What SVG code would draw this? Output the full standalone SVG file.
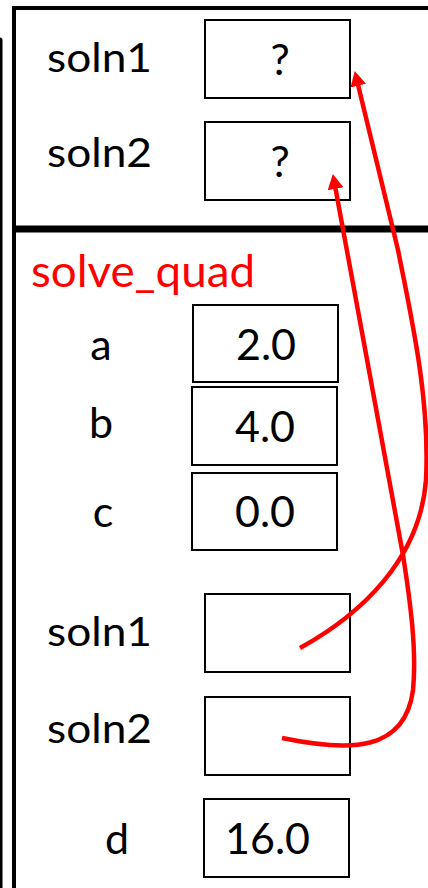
<svg xmlns="http://www.w3.org/2000/svg" width="428" height="888" viewBox="0 0 428 888">
<defs>
<style>
.frame{fill:none;stroke:#000;stroke-linecap:butt}
.box{fill:#fff;stroke:#000;stroke-width:2}
.lbl{font-family:Lato,"Open Sans",sans-serif;font-size:41px;fill:#000}
.val{font-family:Lato,"Open Sans",sans-serif;font-size:43px;fill:#000}
.title{font-family:Lato,"Open Sans",sans-serif;font-size:44px;fill:#ff0000}
.ptr{fill:none;stroke:#ff0000;stroke-width:4.5;stroke-linecap:butt}
</style>
<marker id="ah" markerUnits="userSpaceOnUse" markerWidth="16" markerHeight="16" refX="2" refY="8" orient="auto">
<path d="M0,0 L15,8 L0,16 Z" fill="#ff0000"/>
</marker>
</defs>
<rect width="428" height="888" fill="#fff"/>
<g id="frame">
<line x1="0" y1="40" x2="0" y2="888" stroke="#000" stroke-width="5" stroke-linecap="round"/>
<line class="frame" x1="14" y1="8" x2="428" y2="8" stroke-width="4"/>
<line class="frame" x1="14" y1="6" x2="14" y2="888" stroke-width="4"/>
<line class="frame" x1="14" y1="229" x2="428" y2="229" stroke-width="7"/>
</g>
<g id="main-soln1">
<text class="lbl" x="47" y="71.5" textLength="105" lengthAdjust="spacingAndGlyphs">soln1</text>
<rect class="box" x="205" y="20" width="145" height="78"/>
<text class="val" x="280" y="75" text-anchor="middle">?</text>
</g>
<g id="main-soln2">
<text class="lbl" x="47" y="167" textLength="105" lengthAdjust="spacingAndGlyphs">soln2</text>
<rect class="box" x="205" y="122" width="145" height="78"/>
<text class="val" x="280" y="177" text-anchor="middle">?</text>
</g>
<g id="solve_quad">
<text class="title" x="31" y="287" textLength="224" lengthAdjust="spacingAndGlyphs">solve_quad</text>
</g>
<g id="var-a">
<text class="val" x="101" y="360" text-anchor="middle">a</text>
<rect class="box" x="193" y="305" width="145" height="77"/>
<text class="val" x="266" y="360" text-anchor="middle">2.0</text>
</g>
<g id="var-b">
<text class="val" x="101" y="438" text-anchor="middle">b</text>
<rect class="box" x="192" y="387" width="145" height="78"/>
<text class="val" x="265" y="442" text-anchor="middle">4.0</text>
</g>
<g id="var-c">
<text class="val" x="103" y="527" text-anchor="middle">c</text>
<rect class="box" x="192" y="473" width="145" height="77"/>
<text class="val" x="265" y="527" text-anchor="middle">0.0</text>
</g>
<g id="sq-soln1">
<text class="lbl" x="47" y="646" textLength="105" lengthAdjust="spacingAndGlyphs">soln1</text>
<rect class="box" x="205" y="594" width="145" height="78"/>
</g>
<g id="sq-soln2">
<text class="lbl" x="47" y="743" textLength="105" lengthAdjust="spacingAndGlyphs">soln2</text>
<rect class="box" x="205" y="697" width="145" height="78"/>
</g>
<g id="var-d">
<text class="val" x="117" y="854" text-anchor="middle">d</text>
<rect class="box" x="204" y="799" width="145" height="78"/>
<text class="val" x="267.5" y="854" text-anchor="middle">16.0</text>
</g>
<g id="connectors">
<path class="ptr" marker-end="url(#ah)" d="M300,648 C360,615 420,560 426,480 C430,400 412,320 398,250 L357.8,83.7"/>
<path class="ptr" marker-end="url(#ah)" d="M282,738 C350,752 405,752 413,690 C417,650 410,600 403,555 L335.2,186.8"/>
</g>
</svg>
